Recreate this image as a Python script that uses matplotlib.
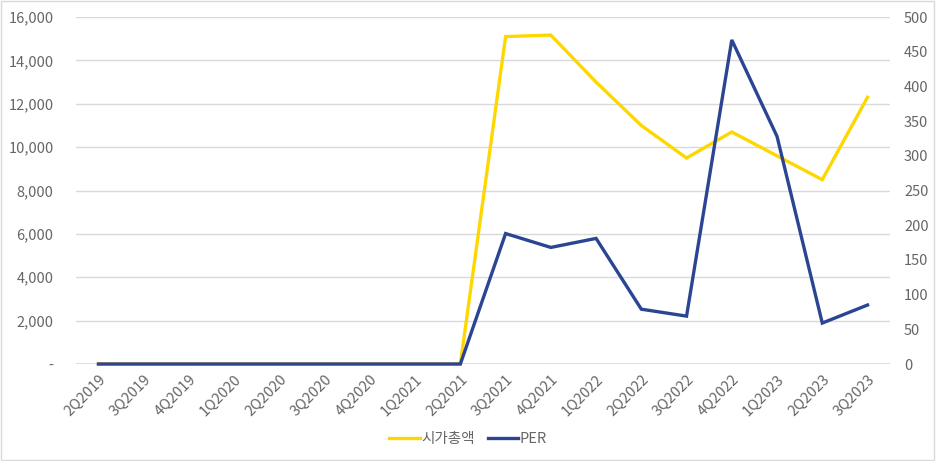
import numpy as np
import matplotlib
matplotlib.use("Agg")
from matplotlib import pyplot as plt
from matplotlib.patches import Rectangle

plt.rcParams['font.family'] = ['Noto Sans CJK KR', 'DejaVu Sans']

quarters = ['2Q2019', '3Q2019', '4Q2019', '1Q2020', '2Q2020', '3Q2020', '4Q2020',
            '1Q2021', '2Q2021', '3Q2021', '4Q2021', '1Q2022', '2Q2022', '3Q2022',
            '4Q2022', '1Q2023', '2Q2023', '3Q2023']
mcap = [0, 0, 0, 0, 0, 0, 0, 0, 0, 15100, 15170, 13000, 11000, 9500, 10700, 9600, 8500, 12300]
per = [0, 0, 0, 0, 0, 0, 0, 0, 0, 188, 168, 181, 79, 69, 467, 328, 59, 85]

left_ticks = [0, 2000, 4000, 6000, 8000, 10000, 12000, 14000, 16000]
right_ticks = [0, 50, 100, 150, 200, 250, 300, 350, 400, 450, 500]

yellow = '#FFD700'
blue = '#2B4593'
grey = '#666666'

fig = plt.figure(figsize=(9.36, 4.61), dpi=100)
ax = fig.add_axes([0.081, 0.2104, 0.870, 0.7526])
ax2 = ax.twinx()

x = np.arange(len(quarters))
ax.plot(x, mcap, color=yellow, lw=2.4, solid_joinstyle='miter', zorder=3,
        clip_on=False, label='시가총액')
ax2.plot(x, per, color=blue, lw=2.4, solid_joinstyle='miter', zorder=3,
         clip_on=False, label='PER')

ax.set_xlim(-0.5, len(quarters) - 0.5)
ax.set_ylim(0, 16000)
ax2.set_ylim(0, 500)

ax.set_yticks(left_ticks)
ax.set_yticklabels(['-' if v == 0 else f'{v:,}' for v in left_ticks])
ax2.set_yticks(right_ticks)
ax2.set_yticklabels([str(v) for v in right_ticks])

ax.set_xticks(x)
ax.set_xticklabels(quarters, rotation=45, ha='right', rotation_mode='anchor')

ax.grid(axis='y', color='#D9D9D9', lw=1)
ax.set_axisbelow(True)
for a in (ax, ax2):
    for s in ('top', 'right', 'left', 'bottom'):
        a.spines[s].set_visible(False)
    a.tick_params(length=0, colors=grey, labelsize=10.5)
ax.tick_params(axis='y', pad=16)
ax.tick_params(axis='x', pad=6)
ax2.tick_params(axis='y', pad=10)
ax.axhline(0, color='#D9D9D9', lw=1.2, zorder=1)

h1, l1 = ax.get_legend_handles_labels()
h2, l2 = ax2.get_legend_handles_labels()
fig.legend(h1 + h2, l1 + l2, loc='center', bbox_to_anchor=(0.5, 0.048), ncol=2,
           frameon=False, fontsize=10.5, labelcolor=grey, handlelength=2.1,
           handletextpad=0.1, columnspacing=0.9)

fig.patches.append(Rectangle((0.001, 0.002), 0.997, 0.995, transform=fig.transFigure,
                             fill=False, edgecolor='#D9D9D9', lw=1))

fig.savefig('out.png', dpi=100, facecolor='white')
